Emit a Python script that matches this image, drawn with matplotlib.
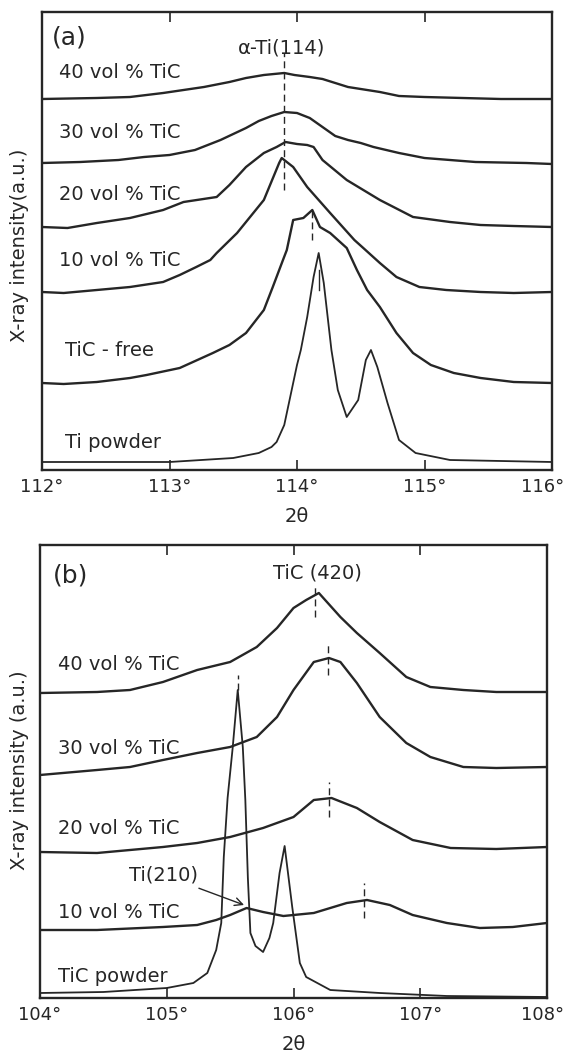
import matplotlib.pyplot as plt
from matplotlib.transforms import ScaledTranslation

# ---- (a) alpha-Ti(114) region, intensities in arbitrary units ----
a_ticks = [112, 113, 114, 115, 116]

a40_x = [112.0, 112.43, 112.69, 112.95, 113.27, 113.47, 113.6, 113.74, 113.9, 113.98,
         114.1, 114.2, 114.3, 114.4, 114.5, 114.65, 114.8, 115.0, 115.3, 115.6, 116.0]
a40_y = [371, 372, 373, 377, 383, 388, 392, 395, 397, 395,
         393, 391, 387, 383, 381, 378, 374, 373, 372, 371, 371]

a30_x = [112.0, 112.3, 112.6, 112.8, 113.0, 113.2, 113.4, 113.5, 113.6, 113.7, 113.8, 113.9,
         114.0, 114.1, 114.2, 114.3, 114.4, 114.5, 114.6, 114.8, 115.0, 115.4, 115.8, 116.0]
a30_y = [307, 308, 310, 313, 315, 320, 330, 336, 342, 349, 354, 358,
         357, 352, 343, 334, 330, 327, 323, 317, 312, 308, 307, 306]

a20_x = [112.0, 112.2, 112.43, 112.69, 112.95, 113.11, 113.37, 113.47, 113.6, 113.74, 113.84,
         113.91, 114.0, 114.08, 114.13, 114.2, 114.39, 114.65, 114.91, 115.2, 115.44, 115.7, 116.0]
a20_y = [243, 242, 247, 252, 260, 268, 273, 285, 303, 317, 323,
         328, 326, 325, 323, 310, 290, 270, 253, 248, 245, 244, 243]

a10_x = [112.0, 112.17, 112.43, 112.69, 112.95, 113.08, 113.21, 113.32, 113.37, 113.53, 113.74,
         113.86, 113.88, 113.97, 114.08, 114.26, 114.45, 114.52, 114.65, 114.78, 114.96, 115.17,
         115.44, 115.7, 116.0]
a10_y = [178, 177, 180, 183, 188, 195, 203, 210, 217, 237, 270,
         307, 312, 303, 283, 257, 230, 222, 207, 193, 183, 180,
         178, 177, 178]

afree_x = [112.0, 112.17, 112.43, 112.69, 112.82, 113.08, 113.34, 113.47, 113.6, 113.74, 113.81,
           113.89, 113.92, 113.97, 114.05, 114.12, 114.18, 114.26, 114.39, 114.47, 114.55,
           114.65, 114.78, 114.91, 115.05, 115.23, 115.44, 115.7, 116.0]
afree_y = [87, 86, 88, 92, 95, 102, 117, 125, 137, 160, 183,
           210, 220, 250, 252, 260, 243, 237, 222, 200, 180,
           163, 137, 117, 105, 97, 92, 88, 87]

apow_x = [112.0, 112.5, 113.0, 113.5, 113.7, 113.8, 113.84, 113.9, 113.95, 114.0, 114.03,
          114.08, 114.13, 114.17, 114.21, 114.27, 114.32, 114.39, 114.48, 114.54, 114.58,
          114.63, 114.71, 114.8, 114.93, 115.2, 115.6, 116.0]
apow_y = [8, 8, 8, 12, 17, 23, 28, 45, 75, 105, 120,
          153, 193, 217, 187, 120, 80, 53, 70, 110, 120,
          103, 67, 30, 17, 10, 9, 8]

# ---- (b) TiC(420) region ----
b_ticks = [104, 105, 106, 107, 108]

b40_x = [104.0, 104.45, 104.71, 104.97, 105.24, 105.5, 105.71, 105.87, 106.0, 106.1, 106.2,
         106.37, 106.5, 106.68, 106.89, 107.08, 107.34, 107.6, 108.0]
b40_y = [305, 306, 308, 316, 328, 336, 351, 370, 390, 398, 405,
         381, 365, 345, 321, 311, 308, 306, 306]

b30_x = [104.0, 104.45, 104.71, 104.97, 105.24, 105.5, 105.71, 105.87, 106.0, 106.16, 106.28,
         106.37, 106.5, 106.68, 106.89, 107.08, 107.34, 107.6, 108.0]
b30_y = [223, 228, 231, 238, 245, 251, 261, 281, 308, 336, 340,
         336, 315, 281, 255, 241, 231, 230, 231]

b20_x = [104.0, 104.45, 104.71, 104.97, 105.24, 105.5, 105.76, 106.0, 106.16, 106.3, 106.5,
         106.68, 106.94, 107.24, 107.6, 108.0]
b20_y = [146, 145, 148, 151, 155, 161, 170, 181, 198, 200, 190,
         176, 158, 150, 149, 151]

b10_x = [104.0, 104.45, 104.97, 105.24, 105.39, 105.5, 105.63, 105.76, 105.92, 106.16, 106.42,
         106.58, 106.76, 106.94, 107.21, 107.47, 107.73, 108.0]
b10_y = [68, 68, 71, 73, 78, 83, 90, 86, 82, 85, 95,
         98, 93, 83, 75, 70, 71, 75]

bpow_x = [104.0, 104.5, 105.0, 105.21, 105.32, 105.39, 105.43, 105.45, 105.48, 105.52, 105.56,
          105.6, 105.62, 105.64, 105.66, 105.7, 105.76, 105.81, 105.84, 105.89, 105.93, 105.99,
          106.05, 106.1, 106.29, 106.68, 107.21, 108.0]
bpow_y = [5, 6, 10, 15, 25, 48, 75, 141, 200, 250, 308,
          251, 198, 120, 65, 52, 46, 60, 75, 125, 152, 91,
          35, 21, 8, 5, 2, 1]

INK = '#262626'
FS = 14


def setup_axes(ax, ticks, ylim, last_shift):
    ax.set_xlim(ticks[0], ticks[-1])
    ax.set_ylim(0, ylim)
    ax.set_xticks(ticks)
    ax.set_xticklabels([f"{t}°" for t in ticks], fontsize=13, color=INK)
    ax.set_yticks([])
    ax.tick_params(axis='x', direction='in', top=True, length=7, width=1.2,
                   pad=6, colors=INK)
    # keep the right-most label inside the figure
    lab = ax.get_xticklabels()[-1]
    lab.set_transform(lab.get_transform() + ScaledTranslation(last_shift / 72, 0, fig.dpi_scale_trans))
    for s in ax.spines.values():
        s.set_linewidth(1.7)
        s.set_color(INK)
    ax.set_xlabel('2θ', fontsize=14, color=INK, labelpad=8)


fig = plt.figure(figsize=(5.68, 10.59), dpi=100)

# ---------- panel (a) ----------
ax = fig.add_axes([42 / 568, 1 - 470 / 1059, 510 / 568, 458 / 1059])
setup_axes(ax, a_ticks, 458, -7)
for xs, ys in [(a40_x, a40_y), (a30_x, a30_y), (a20_x, a20_y), (a10_x, a10_y), (afree_x, afree_y)]:
    ax.plot(xs, ys, color=INK, lw=1.7)
ax.plot(apow_x, apow_y, color=INK, lw=1.3)

ax.plot([113.9, 113.9], [280, 417], color=INK, lw=1.0, ls=(0, (5, 3)))
ax.plot([114.12, 114.12], [230, 263], color=INK, lw=1.0, ls=(0, (5, 3)))
ax.plot([114.17, 114.17], [180, 200], color=INK, lw=1.0)

ax.text(113.88, 422, 'α-Ti(114)', fontsize=FS, ha='center', va='center', color=INK)
ax.text(112.08, 433, '(a)', fontsize=18, ha='left', va='center', color=INK)
ax.text(112.13, 398, '40 vol % TiC', fontsize=FS, ha='left', va='center', color=INK)
ax.text(112.13, 337, '30 vol % TiC', fontsize=FS, ha='left', va='center', color=INK)
ax.text(112.13, 275, '20 vol % TiC', fontsize=FS, ha='left', va='center', color=INK)
ax.text(112.13, 210, '10 vol % TiC', fontsize=FS, ha='left', va='center', color=INK)
ax.text(112.18, 120, 'TiC - free', fontsize=FS, ha='left', va='center', color=INK)
ax.text(112.18, 27, 'Ti powder', fontsize=FS, ha='left', va='center', color=INK)

fig.text(20 / 568, 1 - 245 / 1059, 'X-ray intensity(a.u.)', rotation=90,
         fontsize=FS, ha='center', va='center', color=INK)

# ---------- panel (b) ----------
ax = fig.add_axes([40 / 568, 1 - 998 / 1059, 507 / 568, 453 / 1059])
setup_axes(ax, b_ticks, 453, -3)
for xs, ys in [(b40_x, b40_y), (b30_x, b30_y), (b20_x, b20_y), (b10_x, b10_y)]:
    ax.plot(xs, ys, color=INK, lw=1.7)
ax.plot(bpow_x, bpow_y, color=INK, lw=1.3)

for xm, y0, y1 in [(106.17, 381, 411), (106.27, 323, 355), (106.28, 181, 216),
                   (106.56, 80, 115), (105.56, 308, 323)]:
    ax.plot([xm, xm], [y0, y1], color=INK, lw=1.0, ls=(0, (5, 3)))

ax.text(106.19, 425, 'TiC (420)', fontsize=FS, ha='center', va='center', color=INK)
ax.text(104.1, 423, '(b)', fontsize=18, ha='left', va='center', color=INK)
ax.text(104.14, 333, '40 vol % TiC', fontsize=FS, ha='left', va='center', color=INK)
ax.text(104.14, 250, '30 vol % TiC', fontsize=FS, ha='left', va='center', color=INK)
ax.text(104.14, 170, '20 vol % TiC', fontsize=FS, ha='left', va='center', color=INK)
ax.text(104.14, 85, '10 vol % TiC', fontsize=FS, ha='left', va='center', color=INK)
ax.text(104.14, 21, 'TiC powder', fontsize=FS, ha='left', va='center', color=INK)
ax.annotate('Ti(210)', xy=(105.61, 93), xytext=(104.7, 123), fontsize=FS,
            ha='left', va='center', color=INK,
            arrowprops=dict(arrowstyle='->', color=INK, lw=1.0, shrinkA=2, shrinkB=0))

fig.text(20 / 568, 1 - 770 / 1059, 'X-ray intensity (a.u.)', rotation=90,
         fontsize=FS, ha='center', va='center', color=INK)

plt.savefig('out.png', dpi=100)
